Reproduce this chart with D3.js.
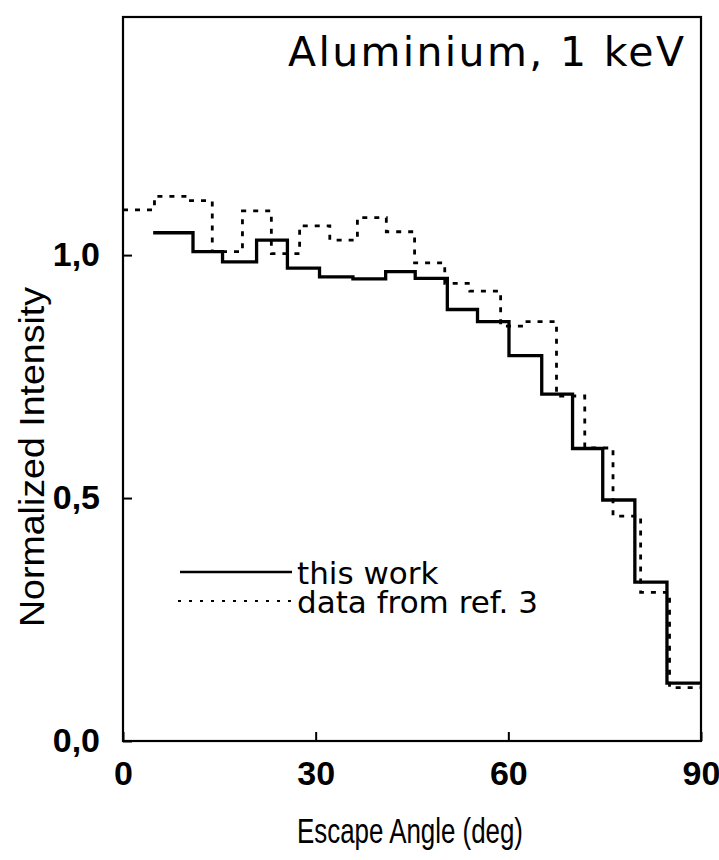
<!DOCTYPE html>
<html>
<head>
<meta charset="utf-8">
<script src="https://cdn.jsdelivr.net/npm/d3@7"></script>
<style>
body { margin: 0; background: #fff; }
svg { display: block; font-family: "Liberation Sans", Arial, sans-serif; }
</style>
</head>
<body>
<div id="chart"></div>
<script>
const MARGIN = {top: 17, right: 18, bottom: 119, left: 123},
WIDTH = 719 - MARGIN.left - MARGIN.right,
HEIGHT = 860 - MARGIN.top - MARGIN.bottom;

// this work (solid): bin edges in deg, normalized intensity per bin
const workEdges = [4.7, 10.9, 15.5, 20.8, 25.6, 30.6, 35.8, 40.9, 45.5, 50.5, 55.2, 60.1, 65.2, 70.0, 74.7, 79.7, 84.7, 90];
const workValues = [1.046, 1.007, 0.986, 1.031, 0.973, 0.955, 0.951, 0.966, 0.952, 0.888, 0.863, 0.793, 0.714, 0.602, 0.496, 0.327, 0.119];

// data from ref. 3 (dashed)
const refEdges = [0, 4.9, 10.5, 13.9, 18.6, 23.1, 27.5, 32.2, 36.5, 41.0, 45.4, 50.1, 54.0, 58.8, 62.3, 67.5, 71.9, 76.3, 80.6, 85.1, 90];
const refValues = [1.093, 1.121, 1.112, 1.007, 1.091, 1.003, 1.060, 1.031, 1.077, 1.048, 0.984, 0.942, 0.926, 0.854, 0.863, 0.710, 0.603, 0.463, 0.306, 0.110];

const xTicks = [0, 30, 60, 90];
const yTicks = [0, 0.5, 1.0];
const legendLabels = ["this work", "data from ref. 3"];

var x = d3.scaleLinear()
        .domain([0, 90])
        .range([0, WIDTH]);

var y = d3.scaleLinear()
        .domain([0, 1.49])
        .range([HEIGHT, 0]);

var xAxis = d3.axisBottom(x)
        .tickValues(xTicks)
        .tickSizeInner(-9)
        .tickSizeOuter(0)
        .tickPadding(20)
        .tickFormat(d3.format("d"));

var yAxis = d3.axisLeft(y)
        .tickValues(yTicks)
        .tickSizeInner(-9)
        .tickSizeOuter(0)
        .tickPadding(23)
        .tickFormat(d => d3.format(".1f")(d).replace(".", ","));

const svg = d3.select("#chart")
        .append("svg")
        .attr("width", 719)
        .attr("height", 860);

const g = svg.append("g")
        .attr("transform", `translate(${MARGIN.left},${MARGIN.top})`);

// turn edges + values into step points
const steps = function(edges, values){
    let pts = [];
    values.forEach((v, i) => {
        pts.push([edges[i], v]);
        pts.push([edges[i + 1], v]);
    });
    return pts;
}

const line = d3.line()
        .x(d => x(d[0]))
        .y(d => y(d[1]));

g.append("path")
        .datum(steps(refEdges, refValues))
        .attr("fill", "none")
        .attr("stroke", "#000")
        .attr("stroke-width", 2.8)
        .attr("stroke-dasharray", "5,7")
        .attr("d", line);

g.append("path")
        .datum(steps(workEdges, workValues))
        .attr("fill", "none")
        .attr("stroke", "#000")
        .attr("stroke-width", 3.3)
        .attr("d", line);

// frame
g.append("rect")
        .attr("width", WIDTH)
        .attr("height", HEIGHT)
        .attr("fill", "none")
        .attr("stroke", "#000")
        .attr("stroke-width", 2.2);

const gx = g.append("g")
        .attr("transform", `translate(0,${HEIGHT})`)
        .call(xAxis);

const gy = g.append("g")
        .call(yAxis);

[gx, gy].forEach(a => {
    a.select(".domain").remove();
    a.selectAll(".tick line").attr("stroke-width", 2);
    a.selectAll(".tick text")
        .attr("font-size", 34)
        .attr("font-weight", "bold")
        .attr("font-family", "Liberation Sans, Arial, sans-serif")
        .attr("fill", "#000");
});

// axis titles
svg.append("text")
        .attr("x", 410)
        .attr("y", 843)
        .attr("text-anchor", "middle")
        .attr("font-size", 35)
        .attr("textLength", 226)
        .attr("lengthAdjust", "spacingAndGlyphs")
        .text("Escape Angle (deg)");

svg.append("text")
        .attr("transform", "translate(44,457) rotate(-90)")
        .attr("text-anchor", "middle")
        .attr("font-size", 35)
        .attr("textLength", 340)
        .attr("lengthAdjust", "spacingAndGlyphs")
        .text("Normalized Intensity");

svg.append("text")
        .attr("x", 684)
        .attr("y", 66)
        .attr("text-anchor", "end")
        .attr("font-family", "DejaVu Sans, sans-serif")
        .attr("font-size", 41)
        .attr("textLength", 396)
        .attr("lengthAdjust", "spacing")
        .text("Aluminium,  1  keV");

// legend
const legend = svg.append("g")
        .attr("transform", "translate(180,572)");

legend.append("line")
        .attr("x1", 0).attr("x2", 112)
        .attr("stroke", "#000")
        .attr("stroke-width", 2.6);

legend.append("line")
        .attr("x1", -2).attr("x2", 112)
        .attr("y1", 29).attr("y2", 29)
        .attr("stroke", "#000")
        .attr("stroke-width", 2)
        .attr("stroke-dasharray", "3,8");

legend.selectAll(".lab")
        .data(legendLabels)
        .enter()
        .append("text")
        .classed("lab", true)
        .attr("x", 117)
        .attr("y", (d, i) => 12 + i * 29)
        .attr("font-family", "DejaVu Sans, sans-serif")
        .attr("font-size", 31)
        .text(d => d);
</script>
</body>
</html>
